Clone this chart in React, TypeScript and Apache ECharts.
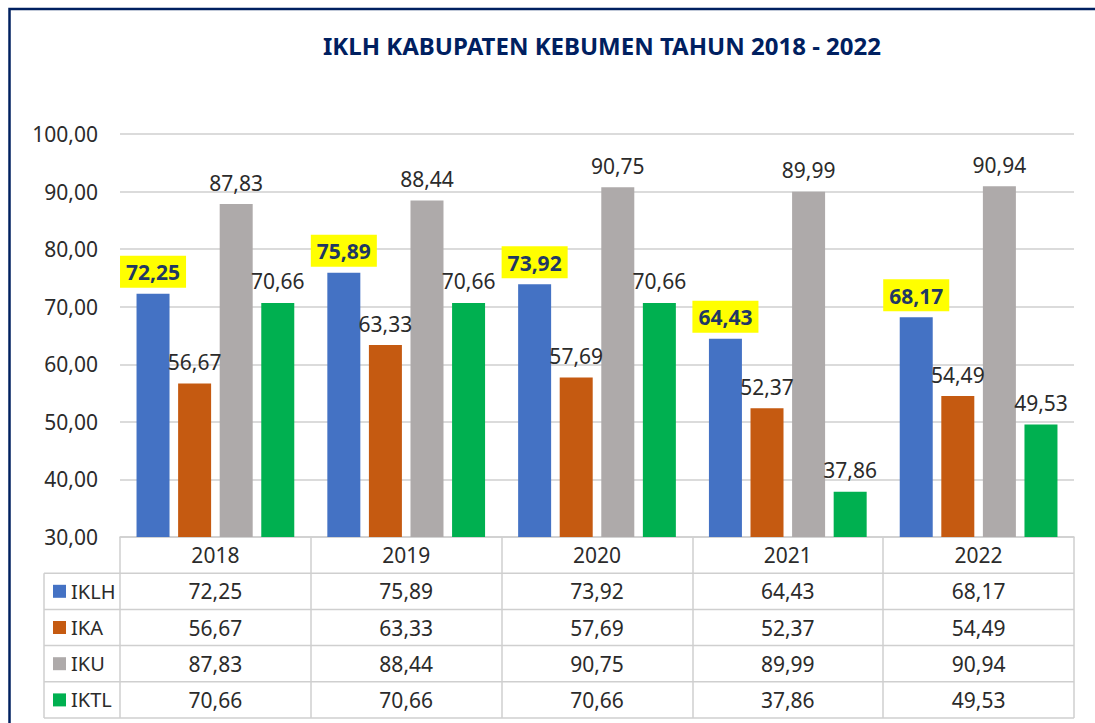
import React, { useEffect, useRef } from "react";
import * as echarts from "echarts";

const years = ["2018", "2019", "2020", "2021", "2022"];
const seriesNames = ["IKLH", "IKA", "IKU", "IKTL"];
const iklh = [72.25, 75.89, 73.92, 64.43, 68.17];
const ika = [56.67, 63.33, 57.69, 52.37, 54.49];
const iku = [87.83, 88.44, 90.75, 89.99, 90.94];
const iktl = [70.66, 70.66, 70.66, 37.86, 49.53];
const colors = ["#4472C4", "#C55A11", "#AEAAAA", "#00B050"];
const titleText = "IKLH KABUPATEN KEBUMEN TAHUN 2018 - 2022";
const yMin = 30;
const yMax = 100;
const yStep = 10;

const W = 1095;
const H = 723;
const GRID_LEFT = 120;
const GRID_RIGHT = 1074;
const GRID_TOP = 134;
const AXIS_Y = 537;
const ROW_H = 36.2;
const TABLE_LEFT = 44;
const FONT = "'Noto Sans', sans-serif";
const TEXT_COLOR = "#2b2b2b";
const LINE_COLOR = "#CFCFCF";
const NAVY = "#002060";

const fmt = (v: number) => v.toFixed(2).replace(".", ",");

export default function App() {
  const ref = useRef<HTMLDivElement>(null);
  useEffect(() => {
    if (!ref.current) return;
    const chart = echarts.init(ref.current, null, { renderer: "svg" });
    const allData = [iklh, ika, iku, iktl];

    const graphics: any[] = [];
    // outer frame (only top and left visible)
    graphics.push({
      type: "rect",
      shape: { x: 9.5, y: 9, width: 1200, height: 800 },
      style: { fill: "none", stroke: NAVY, lineWidth: 2.5 },
      silent: true,
    });
    // table horizontal lines
    for (let r = 1; r <= 5; r++) {
      const y = AXIS_Y + r * ROW_H;
      graphics.push({
        type: "line",
        shape: { x1: TABLE_LEFT, y1: y, x2: GRID_RIGHT, y2: y },
        style: { stroke: LINE_COLOR, lineWidth: 1.5 },
        silent: true,
      });
    }
    // table left vertical line
    graphics.push({
      type: "line",
      shape: { x1: TABLE_LEFT, y1: AXIS_Y + ROW_H, x2: TABLE_LEFT, y2: AXIS_Y + 5 * ROW_H },
      style: { stroke: LINE_COLOR, lineWidth: 1.5 },
      silent: true,
    });
    // legend keys
    seriesNames.forEach((name, i) => {
      const cy = AXIS_Y + (i + 1.5) * ROW_H;
      graphics.push({
        type: "rect",
        shape: { x: 53, y: cy - 6.5, width: 13, height: 13 },
        style: { fill: colors[i] },
        silent: true,
      });
      graphics.push({
        type: "text",
        x: 71,
        y: cy,
        style: {
          text: name,
          fill: TEXT_COLOR,
          font: `20px ${FONT}`,
          verticalAlign: "middle",
          align: "left",
        },
        silent: true,
      });
    });

    const option: any = {
      animation: false,
      backgroundColor: "#ffffff",
      title: {
        text: titleText,
        left: 597,
        top: 28,
        textAlign: "center",
        textStyle: { color: NAVY, fontFamily: FONT, fontWeight: "bold", fontSize: 24 },
      },
      grid: {
        left: GRID_LEFT,
        right: W - GRID_RIGHT,
        top: GRID_TOP,
        bottom: H - AXIS_Y,
        containLabel: false,
      },
      xAxis: {
        type: "category",
        data: years,
        axisLine: { show: true, lineStyle: { color: LINE_COLOR, width: 1.5 } },
        axisTick: {
          show: true,
          interval: 0,
          inside: false,
          length: ROW_H * 5,
          lineStyle: { color: LINE_COLOR, width: 1.5 },
        },
        axisLabel: {
          interval: 0,
          margin: 0,
          formatter: (val: string, idx: number) => {
            const lines = [`{t|${val}}`];
            allData.forEach((d) => lines.push(`{t|${fmt(d[idx])}}`));
            return lines.join("\n");
          },
          rich: {
            t: {
              fontFamily: FONT,
              fontSize: 21,
              color: TEXT_COLOR,
              lineHeight: ROW_H,
              height: ROW_H,
              align: "center",
              verticalAlign: "middle",
            },
          },
        },
      },
      yAxis: {
        type: "value",
        min: yMin,
        max: yMax,
        interval: yStep,
        axisLine: { show: false },
        axisTick: { show: false },
        splitLine: { lineStyle: { color: LINE_COLOR, width: 1.5 } },
        axisLabel: {
          margin: 22,
          formatter: (v: number) => fmt(v),
          fontFamily: FONT,
          fontSize: 21,
          color: TEXT_COLOR,
        },
      },
      series: seriesNames.map((name, i) => ({
        name,
        type: "bar",
        data: allData[i],
        barWidth: 33,
        barGap: "26%",
        itemStyle: { color: colors[i] },
        label:
          i === 0
            ? {
                show: true,
                position: "top",
                distance: 6,
                formatter: (p: any) => fmt(p.value),
                fontFamily: FONT,
                fontSize: 21,
                fontWeight: "bold",
                color: "#1F3864",
                backgroundColor: "#FFFF00",
                padding: [6, 6, 5, 6],
              }
            : {
                show: true,
                position: "top",
                distance: 11,
                formatter: (p: any) => fmt(p.value),
                fontFamily: FONT,
                fontSize: 21,
                color: TEXT_COLOR,
              },
      })),
      graphic: graphics,
    };
    chart.setOption(option);
    return () => chart.dispose();
  }, []);
  return (
    <div
      ref={ref}
      style={{ position: "absolute", left: 0, top: 0, width: W, height: H }}
    />
  );
}
